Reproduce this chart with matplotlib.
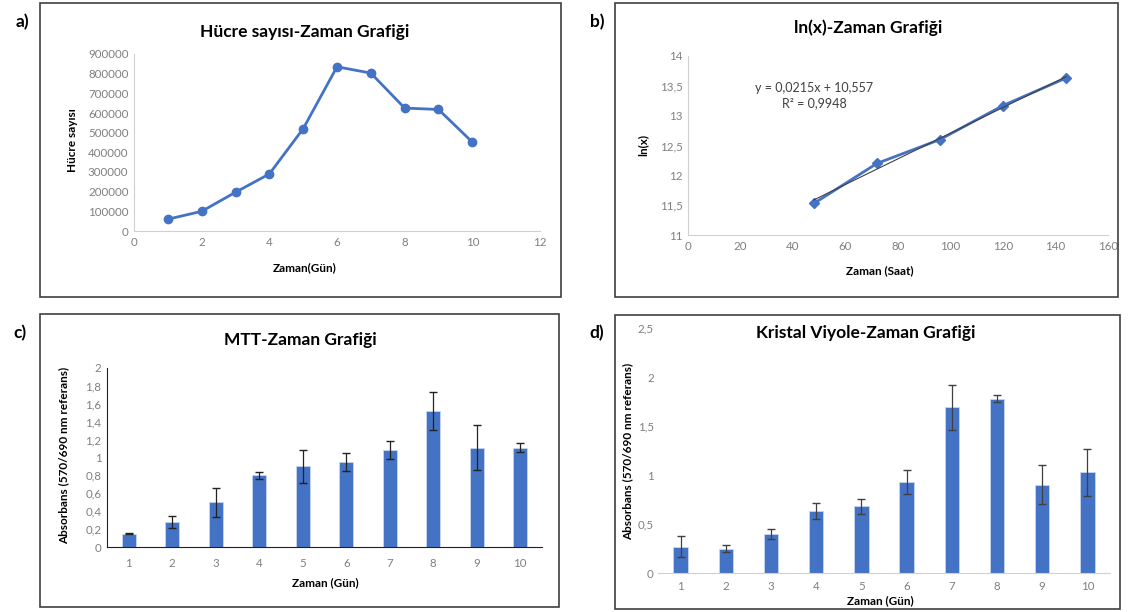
import matplotlib.pyplot as plt
from matplotlib.patches import Rectangle
from matplotlib.ticker import FuncFormatter
import numpy as np

plt.rcParams['font.family'] = ['Lato', 'DejaVu Sans']

W, H = 1128, 612
blue = '#4472C4'
grey_tick = '#7f7f7f'
spine_grey = '#d0d0d0'

# a) hücre sayısı
gun_a = [1, 2, 3, 4, 5, 6, 7, 8, 9, 10]
hucre = [60000, 100000, 197000, 290000, 520000, 835000, 803000, 625000, 618000, 452000]

# b) ln(x)
saat_b = [48, 72, 96, 120, 144]
lnx = [11.53, 12.20, 12.60, 13.17, 13.63]
egim, kesim = 0.0215, 10.557

# c) MTT
gun_c = [1, 2, 3, 4, 5, 6, 7, 8, 9, 10]
mtt = [0.15, 0.28, 0.50, 0.80, 0.90, 0.95, 1.08, 1.52, 1.11, 1.11]
mtt_hata = [0.01, 0.07, 0.16, 0.04, 0.18, 0.10, 0.10, 0.21, 0.25, 0.05]

# d) Kristal viyole
kv = [0.27, 0.25, 0.40, 0.63, 0.68, 0.93, 1.69, 1.78, 0.90, 1.03]
kv_hata = [0.11, 0.04, 0.05, 0.08, 0.08, 0.12, 0.23, 0.04, 0.20, 0.24]


def virgul(x, pos):
    s = ('%g' % x)
    return s.replace('.', ',')


def px_ax(fig, x0, y0, x1, y1):
    # piksel koordinatlari (sol-ust orijin) ile eksen
    return fig.add_axes([x0 / W, 1 - y1 / H, (x1 - x0) / W, (y1 - y0) / H])


def ftext(fig, x, y, s, **kw):
    fig.text(x / W, 1 - y / H, s, **kw)


def cerceve(fig, x0, y0, x1, y1):
    fig.patches.append(Rectangle((x0 / W, 1 - y1 / H), (x1 - x0) / W, (y1 - y0) / H,
                                 transform=fig.transFigure, fill=False,
                                 edgecolor='#404040', linewidth=1.2))


def stil(ax, sol=True, renk=spine_grey):
    for s in ['top', 'right']:
        ax.spines[s].set_visible(False)
    ax.spines['bottom'].set_color(renk)
    ax.spines['left'].set_color(renk)
    ax.spines['left'].set_visible(sol)
    ax.tick_params(length=0, labelsize=8.3, labelcolor=grey_tick, pad=4)


baslik = dict(fontsize=12.5, fontweight='bold', ha='center', va='center')
etiket = dict(fontsize=8.5, fontweight='bold', ha='center', va='center')

fig = plt.figure(figsize=(W / 100, H / 100), dpi=100)

cerceve(fig, 40, 3, 561, 297)
cerceve(fig, 615, 3, 1118, 297)
cerceve(fig, 40, 314, 559, 607)
cerceve(fig, 615, 315, 1120, 609)

for x, y, s in [(22, 22, 'a)'), (597, 22, 'b)'), (20, 333, 'c)'), (597, 333, 'd)')]:
    ftext(fig, x, y, s, fontsize=12.5, fontweight='bold', ha='center', va='center')

# a
ax = px_ax(fig, 134, 54, 540, 231)
ax.plot(gun_a, hucre, color=blue, lw=2, marker='o', ms=6)
ax.set_xlim(0, 12)
ax.set_ylim(0, 900000)
ax.set_xticks(range(0, 13, 2))
ax.set_yticks(range(0, 900001, 100000))
stil(ax)
ftext(fig, 305, 32, 'Hücre sayısı-Zaman Grafiği', **baslik)
ftext(fig, 73, 140, 'Hücre sayısı', rotation=90, **etiket)
ftext(fig, 305, 268, 'Zaman(Gün)', **etiket)

# b
ax = px_ax(fig, 688, 56, 1108, 235)
xs = np.array([saat_b[0], saat_b[-1]])
ax.plot(xs, egim * xs + kesim, color='#404040', lw=0.8, zorder=3)
ax.plot(saat_b, lnx, color=blue, lw=2, marker='D', ms=5)
ax.set_xlim(0, 160)
ax.set_ylim(11, 14)
ax.set_xticks(range(0, 161, 20))
ax.set_yticks(np.arange(11, 14.01, 0.5))
ax.yaxis.set_major_formatter(FuncFormatter(virgul))
stil(ax)
ax.text(0.30, 0.78, 'y = 0,0215x + 10,557\nR² = 0,9948', transform=ax.transAxes,
        fontsize=9, color='#404040', ha='center', va='center', linespacing=1.3)
ftext(fig, 868, 28, 'ln(x)-Zaman Grafiği', **baslik)
ftext(fig, 643, 145, 'ln(x)', rotation=90, **etiket)
ftext(fig, 880, 271, 'Zaman (Saat)', **etiket)

# c
ax = px_ax(fig, 107, 368, 542, 547)
ax.bar(gun_c, mtt, width=0.32, color=blue, edgecolor='#c9d6ee', linewidth=0.6)
ax.errorbar(gun_c, mtt, yerr=mtt_hata, fmt='none', ecolor='#222222', elinewidth=0.9, capsize=3)
ax.set_xlim(0.5, 10.5)
ax.set_ylim(0, 2)
ax.set_xticks(gun_c)
ax.set_yticks(np.arange(0, 2.01, 0.2))
ax.yaxis.set_major_formatter(FuncFormatter(virgul))
stil(ax, renk='#202020')
ax.tick_params(axis='x', pad=8)
ftext(fig, 300, 340, 'MTT-Zaman Grafiği', **baslik)
ftext(fig, 64, 455, 'Absorbans (570/690 nm referans)', rotation=90, **etiket)
ftext(fig, 325, 583, 'Zaman (Gün)', **etiket)

# d
ax = px_ax(fig, 658, 328, 1110, 573)
ax.bar(gun_c, kv, width=0.32, color=blue, edgecolor='#c9d6ee', linewidth=0.6)
ax.errorbar(gun_c, kv, yerr=kv_hata, fmt='none', ecolor='#404040', elinewidth=0.9, capsize=3)
ax.set_xlim(0.5, 10.5)
ax.set_ylim(0, 2.5)
ax.set_xticks(gun_c)
ax.set_yticks(np.arange(0, 2.51, 0.5))
ax.yaxis.set_major_formatter(FuncFormatter(virgul))
stil(ax, sol=False)
ax.tick_params(axis='x', pad=6)
ax.tick_params(axis='y', pad=3)
ftext(fig, 866, 333, 'Kristal Viyole-Zaman Grafiği', **baslik)
ftext(fig, 628, 451, 'Absorbans (570/690 nm referans)', rotation=90, **etiket)
ftext(fig, 880, 601, 'Zaman (Gün)', **etiket)

fig.savefig('out.png', dpi=100)
